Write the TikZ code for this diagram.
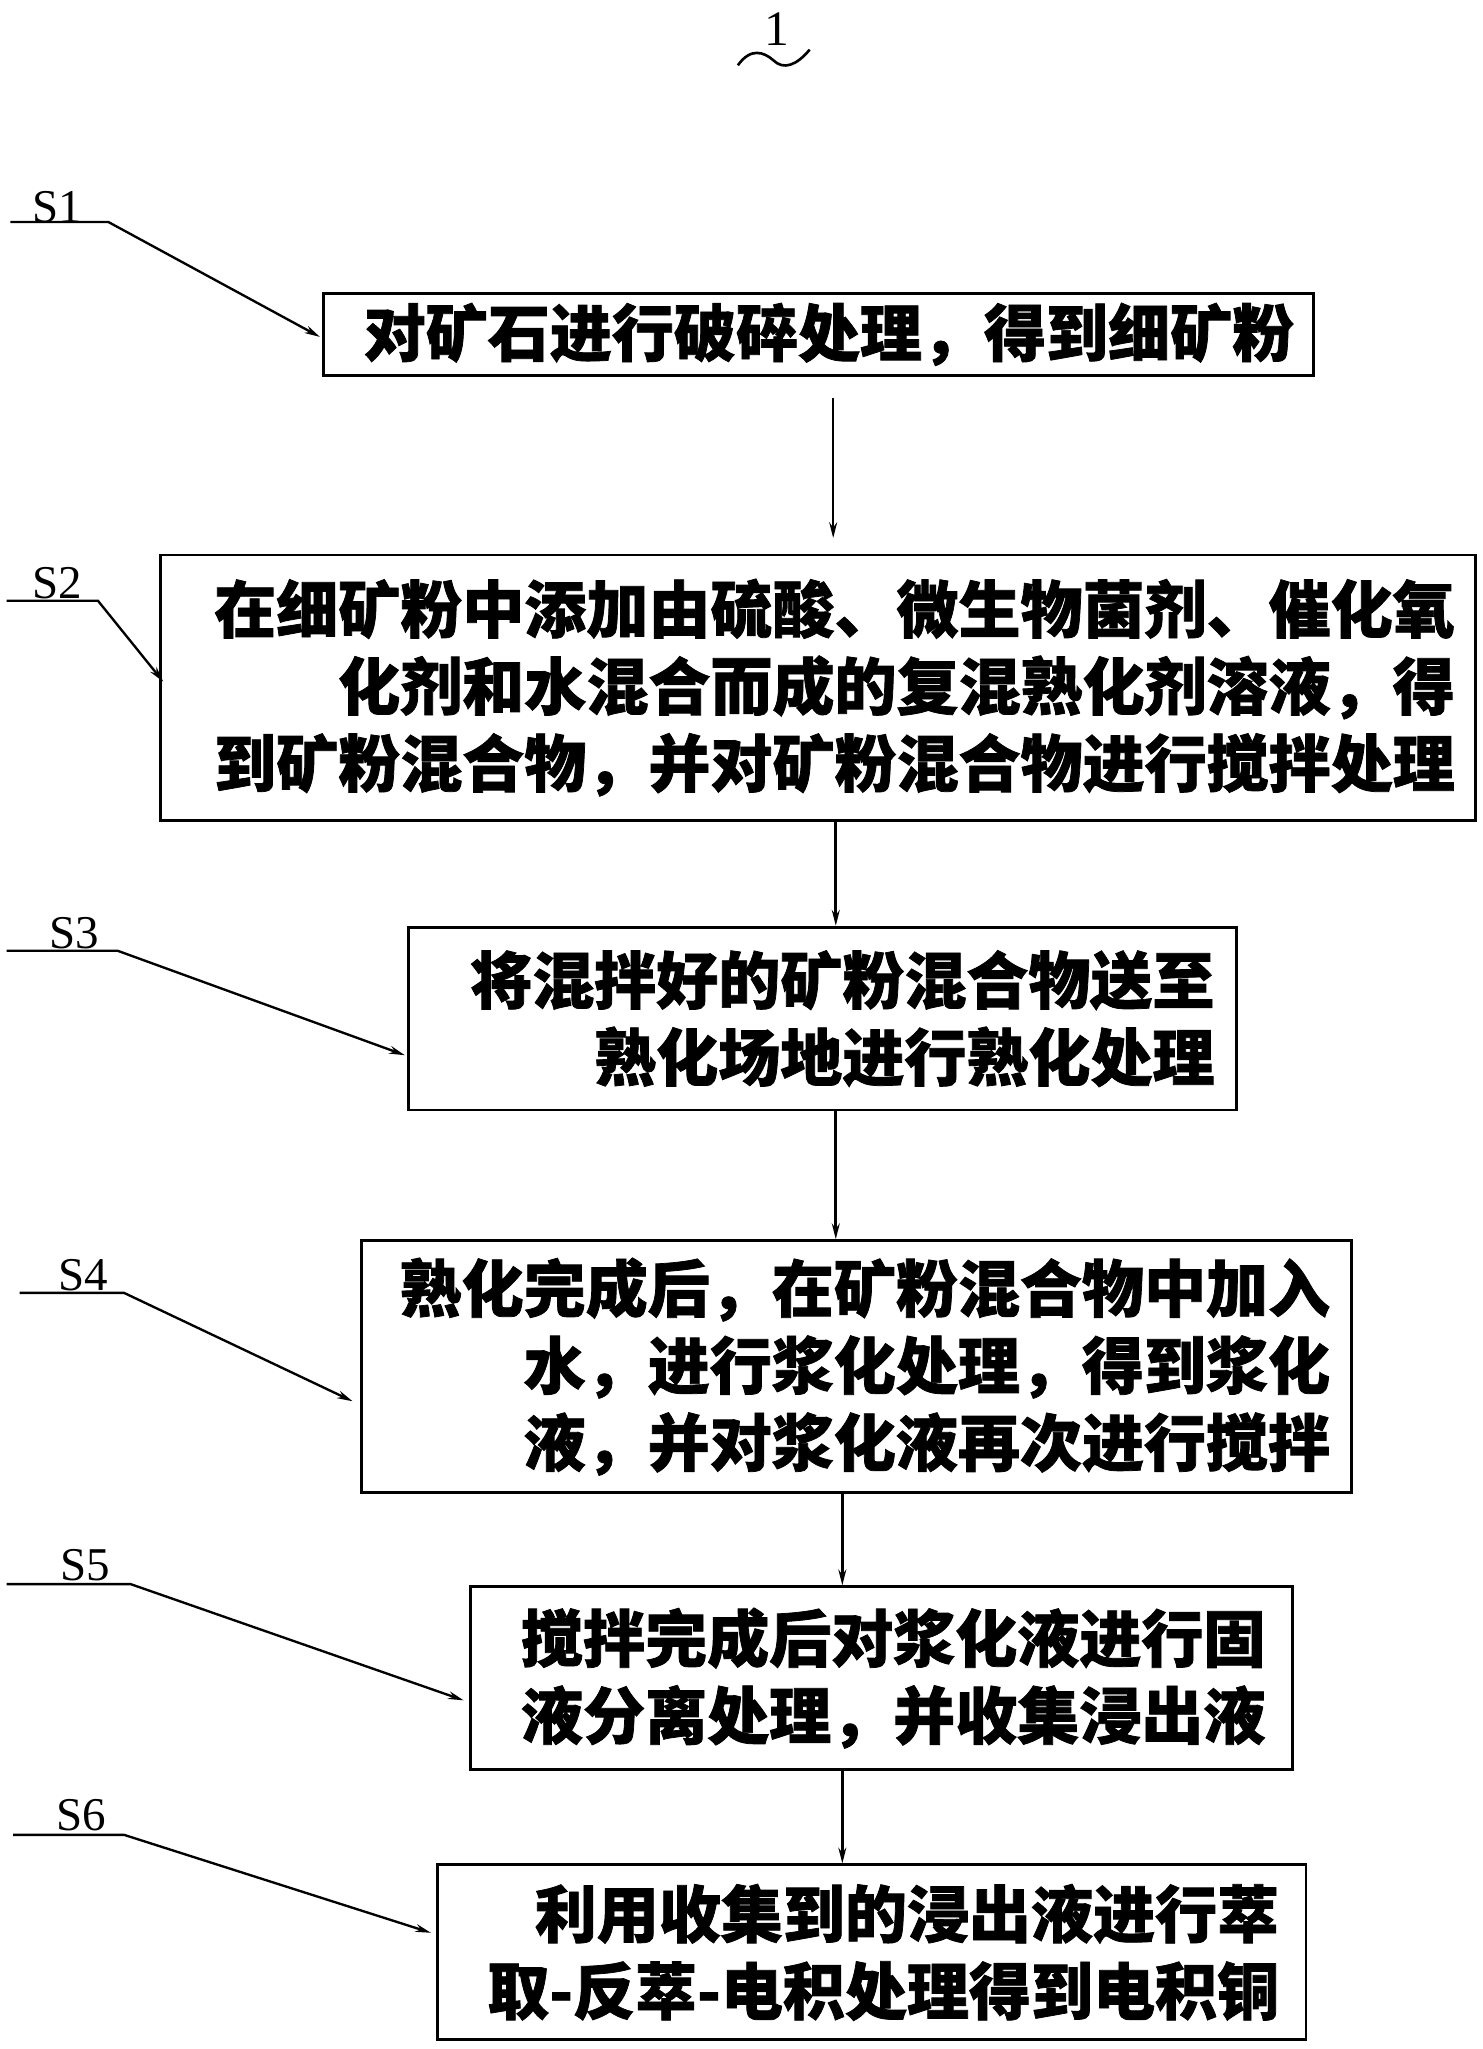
\documentclass[tikz,border=0pt]{standalone}
\usepackage{fontspec}
\setmainfont{Liberation Serif}
\newfontfamily\cjk[FakeBold=1.2]{Noto Sans CJK SC}
\usetikzlibrary{arrows.meta}
\begin{document}
\begin{tikzpicture}[x=1pt,y=-1pt,
  box/.style={draw,line width=2.2pt,inner sep=0pt,font=\cjk\bfseries\fontsize{47.5}{59}\selectfont,align=right},
  lead/.style={line width=1.8pt,-{Stealth[length=12pt,width=6pt]}},
  flow/.style={line width=2pt,-{Stealth[length=12pt,width=6pt]}},
  lab/.style={font=\fontsize{36}{36}\selectfont,anchor=base}]
\useasboundingbox (0,0) rectangle (1135,1569);
\node[font=\fontsize{38}{38}\selectfont,anchor=base] (one) at (595,35) {1};
\draw[line width=2pt] (565,50) .. controls (575,36) and (585,40) .. (592,46) .. controls (600,54) and (610,50) .. (620,38);
% boxes
\node[box,minimum width=758,minimum height=63,text width=728] (b1) at (627,256) {对矿石进行破碎处理，得到细矿粉};
\node[box,minimum width=1007,minimum height=203,text width=975] (b2) at (626.5,526.5) {在细矿粉中添加由硫酸、微生物菌剂、催化氧\\化剂和水混合而成的复混熟化剂溶液，得\\到矿粉混合物，并对矿粉混合物进行搅拌处理};
\node[box,minimum width=634,minimum height=140,text width=600] (b3) at (630,780) {将混拌好的矿粉混合物送至\\熟化场地进行熟化处理};
\node[box,minimum width=758,minimum height=193,text width=725] (b4) at (656,1046.5) {熟化完成后，在矿粉混合物中加入\\水，进行浆化处理，得到浆化\\液，并对浆化液再次进行搅拌};
\node[box,minimum width=630,minimum height=140,text width=588] (b5) at (675,1285) {搅拌完成后对浆化液进行固\\液分离处理，并收集浸出液};
\node[box,minimum width=665,minimum height=134,text width=624] (b6) at (667.5,1495) {利用收集到的浸出液进行萃\\取-反萃-电积处理得到电积铜};
% flow arrows
\draw[flow] (b1.south -| 638,0) ++(0,16) -- (638,412);
\draw[flow] (640,628) -- (b3.north -| 640,0);
\draw[flow] (640,850) -- (b4.north -| 640,0);
\draw[flow] (645,1143) -- (b5.north -| 645,0);
\draw[flow] (645,1355) -- (b6.north -| 645,0);
% labels
\node[lab] (s1) at (44,170) {S1}; \draw[lead] (8,170) -- (83,170) -- (245,258);
\node[lab] (s2) at (44,458) {S2}; \draw[lead] (5,460) -- (75,460) -- (125,522);
\node[lab] (s3) at (57,726) {S3}; \draw[lead] (5,728) -- (90,728) -- (310,808);
\node[lab] (s4) at (64,988) {S4}; \draw[lead] (15,990) -- (95,990) -- (270,1073);
\node[lab] (s5) at (65,1210) {S5}; \draw[lead] (5,1213) -- (100,1213) -- (355,1302);
\node[lab] (s6) at (62,1402) {S6}; \draw[lead] (10,1405) -- (95,1405) -- (330,1480);
\end{tikzpicture}
\end{document}
